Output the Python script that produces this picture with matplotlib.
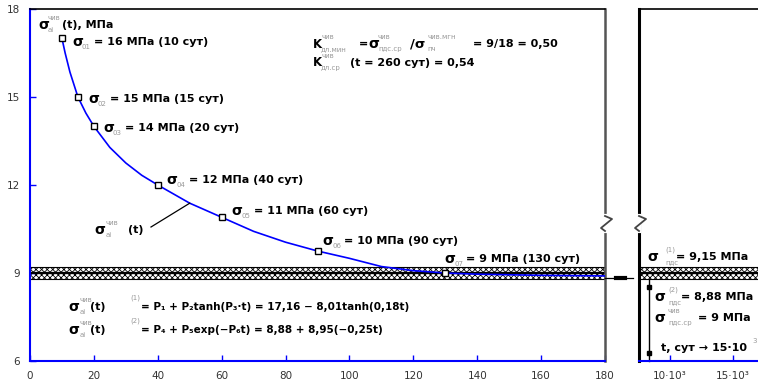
import numpy as np
import matplotlib
matplotlib.use('Agg')
import matplotlib.pyplot as plt
from matplotlib.transforms import Affine2D, blended_transform_factory
from matplotlib.lines import Line2D

# кривая длительной прочности
curve_t = [10, 11, 12.5, 15, 17.5, 20, 25, 30, 35, 40, 50, 60, 70, 80, 90, 100, 110, 120, 130, 140, 160, 180]
curve_s = [17.0, 16.5, 15.85, 15.0, 14.45, 14.0, 13.28, 12.75, 12.33, 12.0, 11.38, 10.9, 10.42, 10.05, 9.75,
           9.5, 9.22, 9.08, 9.0, 8.96, 8.92, 8.9]

# опытные точки
pts_t = [10, 15, 20, 40, 60, 90, 130]
pts_s = [17.0, 15.0, 14.0, 12.0, 10.9, 9.75, 9.0]
pts_idx = ['01', '02', '03', '04', '05', '06', '07']
pts_text = ['= 16 МПа (10 сут)', '= 15 МПа (15 сут)', '= 14 МПа (20 сут)',
            '= 12 МПа (40 сут)', '= 11 МПа (60 сут)', '= 10 МПа (90 сут)',
            '= 9 МПа (130 сут)']

# полоса предела длительной прочности
band_top, band_mid, band_bot = 9.2, 9.0, 8.78

x_ticks = [0, 20, 40, 60, 80, 100, 120, 140, 160, 180]
y_ticks = [6, 9, 12, 15, 18]
x2_ticks = [10000, 15000]
x2_labels = ['10·10³', '15·10³']

W, H = 758, 381
blue = '#0000ff'
grey = '#9a9a9a'
plt.rcParams['hatch.linewidth'] = 0.6

fig = plt.figure(figsize=(W / 100, H / 100), dpi=100)
pix = Affine2D().scale(1 / W, -1 / H).translate(0, 1) + fig.transFigure

ax = fig.add_axes([30 / W, 20 / H, 575 / W, 352 / H])
ax2 = fig.add_axes([639 / W, 20 / H, 125 / W, 352 / H])


def band(a):
    a.axhspan(band_mid, band_top, facecolor='white', edgecolor='black', hatch='xxxxxx', lw=0.8, zorder=1)
    a.axhspan(band_bot, band_mid, facecolor='white', edgecolor='black', hatch='xxxxxx', lw=0.8, zorder=1)
    a.axhline(band_mid, color='black', lw=1.6, zorder=2)


# левая часть
ax.set_xlim(0, 180)
ax.set_ylim(6, 18)
band(ax)
ax.plot(curve_t, curve_s, color=blue, lw=1.2, zorder=3)
ax.plot(pts_t, pts_s, 's', ms=4.5, mfc='white', mec='black', mew=1, zorder=4)
ax.set_xticks(x_ticks)
ax.set_yticks(y_ticks)
ax.tick_params(direction='in', colors=blue, length=4, width=1, labelsize=7.5,
               labelcolor='#333333', pad=7)
ax.spines['left'].set_color(blue)
ax.spines['bottom'].set_color(blue)
ax.spines['left'].set_linewidth(1.5)
ax.spines['bottom'].set_linewidth(1.5)
ax.spines['top'].set_linewidth(1.2)
ax.spines['right'].set_color('#555555')
ax.spines['right'].set_linewidth(1.8)

# правая часть
ax2.set_xlim(7540, 17460)
ax2.set_ylim(6, 18)
band(ax2)
ax2.set_xticks(x2_ticks)
ax2.set_xticklabels(x2_labels)
ax2.set_yticks([])
ax2.tick_params(axis='x', direction='in', colors=blue, length=4, width=1, labelsize=7.5,
                labelcolor='#333333', pad=7)
ax2.spines['right'].set_visible(False)
ax2.spines['left'].set_linewidth(2.2)
ax2.spines['top'].set_linewidth(1.2)
ax2.spines['bottom'].set_color(blue)
ax2.spines['bottom'].set_linewidth(1.5)

# стрелка t -> 15*10^3
tr2 = blended_transform_factory(ax2.transAxes, ax2.transData)
ax2.plot([0.08, 0.08], [band_bot, 6], color='black', lw=1, transform=tr2, clip_on=False)
ax2.plot([0.08, 0.08], [8.52, 6.27], 's', color='black', ms=3.5, transform=tr2)


def txt(px, py, s, size=8, color='black', weight='bold'):
    fig.text(px, py, s, transform=pix, fontsize=size, color=color, fontweight=weight,
             ha='left', va='center')


def sig(px, py, sub='', sup='', rest='', rdx=22, sdx=10):
    txt(px, py, 'σ', size=10)
    if sup:
        txt(px + sdx, py - 7, sup, size=5, color=grey, weight='normal')
    if sub:
        txt(px + sdx, py + 5, sub, size=5, color=grey, weight='normal')
    if rest:
        txt(px + rdx, py, rest)


# подписи точек
label_dx = [10, 10, 9, 9, 10, 5, -1]
label_dy = [4, 2, 2, -5, -6, -10, -14]
for t, s, idx, lab, dx, dy in zip(pts_t, pts_s, pts_idx, pts_text, label_dx, label_dy):
    x0, y0 = ax.transData.transform((t, s))
    sig(x0 + dx, H - y0 + dy, sub=idx, rest=lab, rdx=22)

sig(38, 25, sub='ai', sup='чив', rest='(t), МПа', rdx=24)

# коэффициенты
txt(313, 44, 'K', size=8.5)
txt(321, 49, 'дл.мин', size=5, color=grey, weight='normal')
txt(321, 37, 'чив', size=5, color=grey, weight='normal')
txt(359, 44, '=', size=8)
sig(368, 44, sub='пдс.ср', sup='чив', sdx=10)
txt(410, 44, '/σ', size=9.5)
txt(427, 37, 'чив.мгн', size=5, color=grey, weight='normal')
txt(427, 49, 'пч', size=5, color=grey, weight='normal')
txt(473, 44, '= 9/18 = 0,50')
txt(313, 63, 'K', size=8.5)
txt(321, 68, 'дл.ср', size=5, color=grey, weight='normal')
txt(321, 56, 'чив', size=5, color=grey, weight='normal')
txt(350, 63, '(t = 260 сут) = 0,54')

# подпись кривой с выноской
sig(94, 230, sub='ai', sup='чив', rest='(t)', rdx=34, sdx=12)
xe, ye = ax.transData.transform((curve_t[10], curve_s[10]))
fig.add_artist(Line2D([151, xe], [227, H - ye], transform=pix, color='black', lw=0.9))

# формулы аппроксимации
sig(68, 307, sub='ai', sup='чив', rest='(t)', rdx=22, sdx=12)
txt(130, 298, '(1)', size=5, color=grey, weight='normal')
txt(141, 307, '= P₁ + P₂tanh(P₃·t) = 17,16 − 8,01tanh(0,18t)', size=7.5)
sig(68, 330, sub='ai', sup='чив', rest='(t)', rdx=22, sdx=12)
txt(130, 321, '(2)', size=5, color=grey, weight='normal')
txt(141, 330, '= P₄ + P₅exp(−P₆t) = 8,88 + 8,95(−0,25t)', size=7.5)

# правая часть — подписи
sig(647, 257, sub='пдс', sup='(1)', rest='= 9,15 МПа', rdx=29, sdx=18)
sig(654, 297, sub='пдс', sup='(2)', rest='= 8,88 МПа', rdx=27, sdx=14)
sig(654, 318, sub='пдс.ср', sup='чив', rest='= 9 МПа', rdx=44, sdx=14)
txt(661, 348, 't, сут → 15·10', size=8)
txt(752, 341, '3', size=5, color=grey, weight='normal')

# разрыв осей
for x0 in (605, 639):
    fig.add_artist(Line2D([x0, x0], [216, 231], transform=pix, color='white', lw=3))
    fig.add_artist(Line2D([x0, x0 + 7, x0 - 4, x0], [216, 219, 228, 231], transform=pix,
                          color='#444444', lw=1.3))
# перемычка между частями
fig.add_artist(Line2D([605, 633], [278, 278], transform=pix, color='black', lw=0.9))
fig.add_artist(Line2D([616, 625], [278, 278], transform=pix, color='black', lw=3))

fig.savefig('out.png', dpi=100)
